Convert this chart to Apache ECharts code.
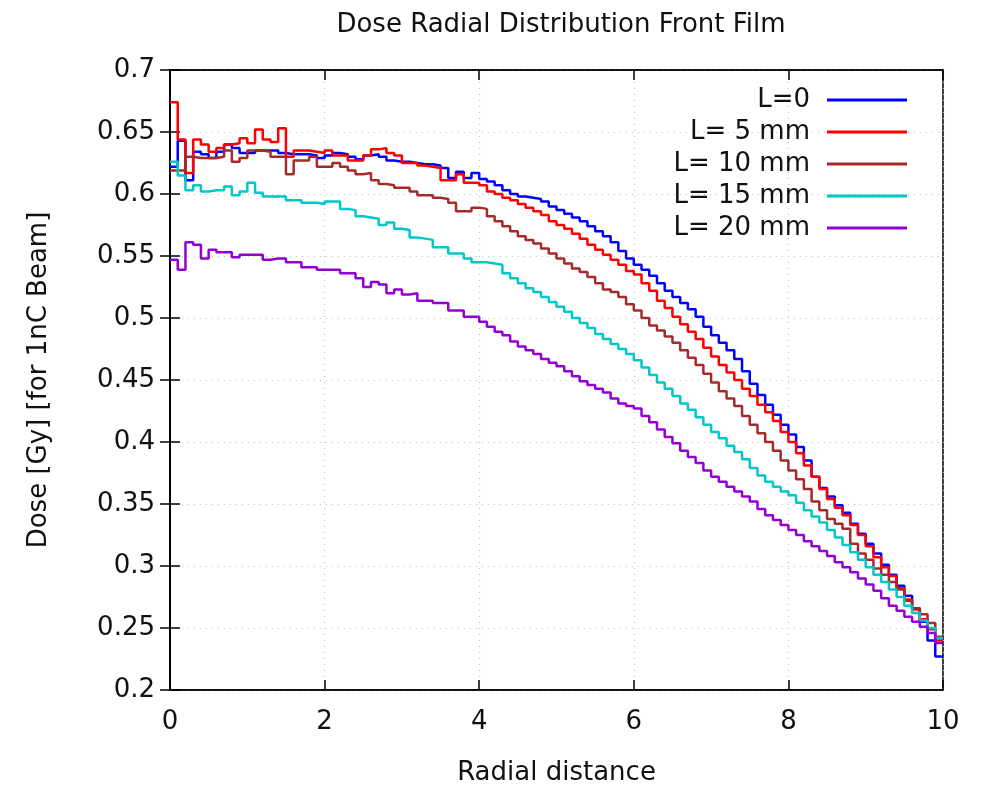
<!DOCTYPE html>
<html>
<head>
<meta charset="utf-8">
<script src="https://cdn.jsdelivr.net/npm/echarts@6/dist/echarts.min.js"></script>
<style>html,body{margin:0;padding:0;background:#fff}#c{width:992px;height:787px}</style>
</head>
<body>
<div id="c"></div>
<script>
var radial = [0.0,0.1,0.2,0.3,0.4,0.5,0.6,0.7,0.8,0.9,1.0,1.1,1.2,1.3,1.4,1.5,1.6,1.7,1.8,1.9,
2.0,2.1,2.2,2.3,2.4,2.5,2.6,2.7,2.8,2.9,3.0,3.1,3.2,3.3,3.4,3.5,3.6,3.7,3.8,3.9,
4.0,4.1,4.2,4.3,4.4,4.5,4.6,4.7,4.8,4.9,5.0,5.1,5.2,5.3,5.4,5.5,5.6,5.7,5.8,5.9,
6.0,6.1,6.2,6.3,6.4,6.5,6.6,6.7,6.8,6.9,7.0,7.1,7.2,7.3,7.4,7.5,7.6,7.7,7.8,7.9,
8.0,8.1,8.2,8.3,8.4,8.5,8.6,8.7,8.8,8.9,9.0,9.1,9.2,9.3,9.4,9.5,9.6,9.7,9.8,9.9,10.0];

var doseL0 = [0.622,0.643,0.611,0.634,0.632,0.629,0.634,0.640,0.637,0.633,0.633,0.635,0.635,0.635,0.633,0.632,0.632,0.632,0.631,0.629,
0.631,0.633,0.632,0.630,0.628,0.631,0.632,0.630,0.627,0.626,0.626,0.625,0.624,0.624,0.623,0.621,0.613,0.618,0.613,0.617,
0.612,0.610,0.607,0.603,0.600,0.598,0.597,0.596,0.594,0.590,0.587,0.584,0.581,0.578,0.574,0.570,0.566,0.561,0.554,0.548,
0.543,0.539,0.534,0.528,0.522,0.517,0.512,0.507,0.501,0.493,0.486,0.480,0.474,0.467,0.457,0.447,0.438,0.430,0.422,0.414,
0.406,0.396,0.385,0.372,0.363,0.356,0.349,0.343,0.334,0.326,0.318,0.310,0.301,0.293,0.284,0.276,0.266,0.255,0.240,0.227,0.227];

var doseL5 = [0.674,0.644,0.617,0.644,0.640,0.634,0.637,0.640,0.641,0.645,0.641,0.652,0.644,0.642,0.653,0.630,0.635,0.635,0.634,0.633,
0.635,0.631,0.631,0.627,0.627,0.631,0.636,0.637,0.633,0.631,0.625,0.625,0.623,0.622,0.621,0.611,0.611,0.616,0.609,0.609,
0.607,0.602,0.600,0.597,0.595,0.592,0.589,0.586,0.583,0.578,0.575,0.572,0.568,0.564,0.559,0.555,0.551,0.547,0.543,0.538,
0.535,0.528,0.522,0.514,0.508,0.501,0.495,0.489,0.483,0.476,0.469,0.462,0.456,0.450,0.443,0.437,0.430,0.424,0.417,0.408,
0.400,0.391,0.381,0.372,0.362,0.354,0.347,0.341,0.333,0.325,0.316,0.307,0.299,0.292,0.282,0.273,0.265,0.257,0.249,0.240,0.240];

var doseL10 = [0.619,0.619,0.630,0.629,0.629,0.629,0.630,0.635,0.626,0.629,0.635,0.635,0.634,0.630,0.630,0.616,0.627,0.627,0.630,0.622,
0.622,0.625,0.622,0.619,0.616,0.617,0.611,0.608,0.607,0.605,0.605,0.602,0.599,0.599,0.597,0.596,0.593,0.586,0.586,0.589,
0.588,0.582,0.578,0.574,0.570,0.566,0.563,0.560,0.556,0.552,0.548,0.544,0.540,0.537,0.533,0.528,0.523,0.521,0.517,0.511,
0.506,0.500,0.494,0.490,0.485,0.480,0.474,0.468,0.462,0.455,0.448,0.441,0.435,0.429,0.421,0.414,0.407,0.400,0.393,0.385,
0.377,0.370,0.362,0.352,0.345,0.338,0.334,0.330,0.318,0.310,0.305,0.298,0.293,0.287,0.281,0.272,0.266,0.261,0.254,0.243,0.243];

var doseL15 = [0.626,0.615,0.603,0.607,0.602,0.603,0.603,0.606,0.599,0.602,0.609,0.601,0.598,0.598,0.598,0.595,0.595,0.593,0.593,0.592,
0.594,0.594,0.588,0.587,0.582,0.581,0.580,0.575,0.577,0.572,0.571,0.565,0.564,0.563,0.557,0.557,0.552,0.552,0.548,0.545,
0.545,0.544,0.543,0.536,0.532,0.528,0.524,0.521,0.517,0.513,0.509,0.505,0.500,0.496,0.492,0.487,0.483,0.479,0.475,0.471,
0.466,0.460,0.454,0.448,0.443,0.437,0.431,0.426,0.420,0.414,0.408,0.403,0.397,0.392,0.386,0.379,0.373,0.368,0.364,0.360,
0.357,0.351,0.345,0.340,0.335,0.329,0.323,0.317,0.311,0.305,0.299,0.293,0.287,0.281,0.275,0.268,0.262,0.256,0.250,0.242,0.242];

var doseL20 = [0.547,0.539,0.561,0.559,0.548,0.555,0.553,0.553,0.549,0.551,0.551,0.551,0.547,0.548,0.548,0.545,0.545,0.541,0.541,0.539,
0.539,0.539,0.536,0.536,0.532,0.525,0.529,0.527,0.520,0.523,0.519,0.520,0.514,0.514,0.512,0.512,0.506,0.506,0.501,0.501,
0.497,0.493,0.489,0.486,0.481,0.477,0.474,0.471,0.467,0.464,0.461,0.457,0.453,0.449,0.446,0.443,0.440,0.435,0.431,0.429,
0.427,0.421,0.416,0.410,0.404,0.399,0.393,0.388,0.383,0.377,0.372,0.368,0.364,0.360,0.356,0.352,0.346,0.341,0.337,0.333,
0.329,0.325,0.320,0.316,0.312,0.308,0.303,0.299,0.295,0.290,0.285,0.280,0.274,0.268,0.264,0.259,0.255,0.251,0.246,0.238,0.238];

var seriesNames = ['L=0', 'L= 5 mm', 'L= 10 mm', 'L= 15 mm', 'L= 20 mm'];
var seriesColors = ['#0000ff', '#ff0000', '#a52a2a', '#00c8c8', '#9400d3'];
var seriesValues = [doseL0, doseL5, doseL10, doseL15, doseL20];

var titleText = 'Dose Radial Distribution Front Film';
var xName = 'Radial distance';
var yName = 'Dose [Gy] [for 1nC Beam]';

var FONT = 'DejaVu Sans';
var FS = 26;
var chart = echarts.init(document.getElementById('c'), null, {renderer: 'canvas'});

function pairs(vals) { return radial.map(function (r, i) { return [r, vals[i]]; }); }

var series = seriesValues.map(function (vals, k) {
  return {
    name: seriesNames[k], type: 'line', step: 'end', symbol: 'none',
    data: pairs(vals), xAxisIndex: 0, yAxisIndex: 0,
    lineStyle: {color: seriesColors[k], width: 2.5}, itemStyle: {color: seriesColors[k]},
    emphasis: {disabled: true}
  };
});

var tickStyle = {show: true, inside: true, length: 10, lineStyle: {color: '#000', width: 1.5}};
var gridLine = {show: true, lineStyle: {color: '#c0c0c0', type: [1, 5], width: 1.2}};

chart.setOption({
  animation: false,
  backgroundColor: '#fff',
  title: {text: titleText, left: 556, top: 7, textAlign: 'center',
    textStyle: {fontFamily: FONT, fontSize: FS, fontWeight: 'normal', color: '#111'}},
  grid: {left: 170, right: 49, top: 70, bottom: 97, show: true, borderColor: '#000', borderWidth: 1.5,
    backgroundColor: 'transparent', containLabel: false, outerBoundsMode: 'none'},
  legend: {
    orient: 'vertical', right: 80, top: 82, align: 'right', itemGap: 6,
    icon: 'rect', itemWidth: 80, itemHeight: 3,
    textStyle: {fontFamily: FONT, fontSize: FS, color: '#111', padding: [0, 12, 0, 0]},
    data: seriesNames
  },
  xAxis: [
    {type: 'value', min: 0, max: 10, interval: 2, position: 'bottom',
      name: xName, nameLocation: 'middle', nameGap: 70,
      nameTextStyle: {fontFamily: FONT, fontSize: FS, color: '#111'},
      axisLine: {show: true, lineStyle: {color: '#000', width: 1.5}}, axisTick: tickStyle,
      axisLabel: {fontFamily: FONT, fontSize: FS, color: '#111', margin: 19},
      splitLine: gridLine},
    {type: 'value', min: 0, max: 10, interval: 2, position: 'top',
      axisLine: {show: true, lineStyle: {color: '#000', width: 1.5}}, axisTick: tickStyle,
      axisLabel: {show: false}, splitLine: {show: false}}
  ],
  yAxis: [
    {type: 'value', min: 0.2, max: 0.7, interval: 0.05, position: 'left',
      name: yName, nameLocation: 'middle', nameGap: 118, nameRotate: 90,
      nameTextStyle: {fontFamily: FONT, fontSize: FS, color: '#111'},
      axisLine: {show: true, lineStyle: {color: '#000', width: 1.5}}, axisTick: tickStyle,
      axisLabel: {fontFamily: FONT, fontSize: FS, color: '#111', margin: 15,
        formatter: function (v) { return String(+v.toFixed(2)); }},
      splitLine: gridLine},
    {type: 'value', min: 0.2, max: 0.7, interval: 0.05, position: 'right',
      axisLine: {show: true, lineStyle: {color: '#000', width: 1.5}}, axisTick: tickStyle,
      axisLabel: {show: false}, splitLine: {show: false}}
  ],
  series: series
});
</script>
</body>
</html>
